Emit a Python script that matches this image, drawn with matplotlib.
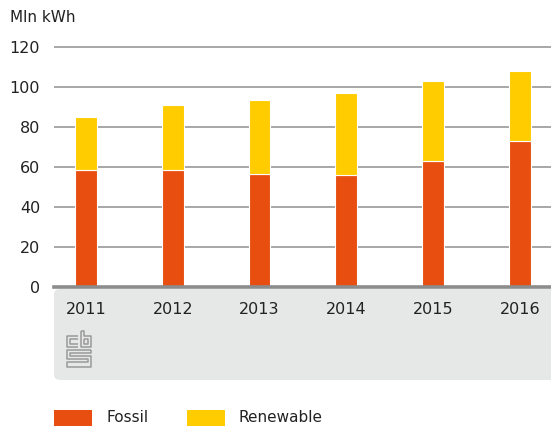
import matplotlib
matplotlib.use("Agg")
import matplotlib.pyplot as plt
from matplotlib.patches import FancyBboxPatch, Rectangle
from matplotlib.lines import Line2D
import numpy as np

years = ["2011", "2012", "2013", "2014", "2015", "2016"]
fossil = [58.5, 58.3, 56.7, 55.8, 63.2, 73.2]
renewable = [26.3, 32.9, 36.8, 41.4, 40.0, 35.0]
yticks = [0, 20, 40, 60, 80, 100, 120]
unit_label = "Mln kWh"
series_names = ["Fossil", "Renewable"]

W, H = 551, 426
fig = plt.figure(figsize=(W / 100, H / 100), dpi=100)
plt.rcParams['font.family'] = ['DejaVu Sans']

def fx(x):
    return x / W

def fy(y):
    return 1 - y / H

C_FOS = "#E84E0F"
C_REN = "#FFCC00"
TXT = "#222222"

# gray bottom panel
panel = FancyBboxPatch((fx(54), fy(380)), fx(560) - fx(54), fy(289) - fy(380),
                       boxstyle="round,pad=0,rounding_size=0.012",
                       transform=fig.transFigure, facecolor="#E6E7E7",
                       edgecolor="none", zorder=-1)
fig.patches.append(panel)

ax = fig.add_axes([fx(54), fy(287), 1 - fx(54), fy(46) - fy(287)])
ax.set_facecolor("none")
x = np.arange(len(years))
ax.bar(x, fossil, width=0.25, color=C_FOS, edgecolor="white", linewidth=0.8, zorder=3)
ax.bar(x, renewable, width=0.25, bottom=fossil, color=C_REN, edgecolor="white",
       linewidth=0.8, zorder=3)
ax.set_xlim(-0.37, 5.36)
ax.set_ylim(0, 120.5)
ax.set_yticks(yticks)
ax.yaxis.grid(True, color="#A0A0A0", linewidth=1.3, zorder=1)
ax.tick_params(axis="y", length=0, pad=10, labelsize=11.5, labelcolor=TXT)
ax.set_xticks(x)
ax.set_xticklabels(years)
ax.tick_params(axis="x", length=0, pad=11, labelsize=11.5, labelcolor=TXT)
for s in ["top", "right", "left"]:
    ax.spines[s].set_visible(False)
ax.spines["bottom"].set_color("#8C8C8C")
ax.spines["bottom"].set_linewidth(2.6)
ax.spines["bottom"].set_zorder(4)

fig.text(fx(10), fy(17), unit_label, fontsize=11, color=TXT, va="center", ha="left")

# CBS logo (simplified)
def pl(pts, lw=1.1):
    xs = [fx(p[0]) for p in pts]
    ys = [fy(p[1]) for p in pts]
    fig.lines.append(Line2D(xs, ys, transform=fig.transFigure, color="#9A9A9A",
                            linewidth=lw, solid_capstyle="butt"))

# c
pl([(78, 336), (67, 336), (67, 347), (78, 347)])
pl([(78, 339), (70, 339), (70, 344), (78, 344)])
# b
pl([(81, 331), (81, 347), (91, 347), (91, 336), (84, 336), (84, 331), (81, 331)])
pl([(84, 339), (88, 339), (88, 344), (84, 344), (84, 339)])
# S
pl([(91, 350), (67, 350), (67, 359), (88, 359), (88, 362), (67, 362), (67, 367), (91, 367), (91, 356), (70, 356), (70, 353), (91, 353), (91, 350)])

# legend
fig.patches.append(Rectangle((fx(54), fy(426)), fx(38), fy(410) - fy(426),
                             transform=fig.transFigure, facecolor=C_FOS, edgecolor="none"))
fig.text(fx(106), fy(418), series_names[0], fontsize=11, color=TXT, va="center", ha="left")
fig.patches.append(Rectangle((fx(187), fy(426)), fx(38), fy(410) - fy(426),
                             transform=fig.transFigure, facecolor=C_REN, edgecolor="none"))
fig.text(fx(239), fy(418), series_names[1], fontsize=11, color=TXT, va="center", ha="left")

fig.savefig("out.png", dpi=100)
